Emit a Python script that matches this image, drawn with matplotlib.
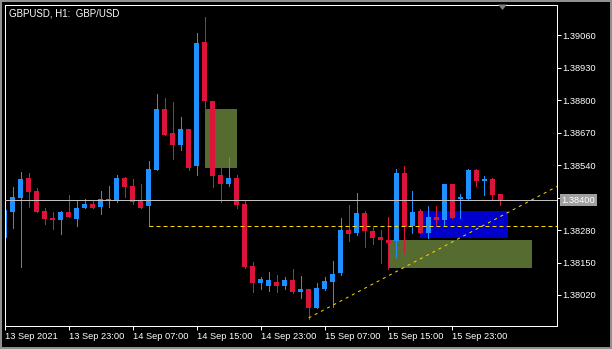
import matplotlib
matplotlib.use('Agg')
import matplotlib.pyplot as plt
import matplotlib.transforms as mtransforms
from matplotlib.patches import Rectangle, Polygon

# GBPUSD H1 bars, first bar = 13 Sep 2021 15:00
opens = [1.38248, 1.38352, 1.38408, 1.38488, 1.38436, 1.38356, 1.38328, 1.38320, 1.38352, 1.38324,
         1.38368, 1.38384, 1.38372, 1.38396, 1.38400, 1.38488, 1.38456, 1.38396, 1.38376, 1.38520,
         1.38764, 1.38668, 1.38620, 1.38684, 1.38536, 1.39032, 1.38796, 1.38500, 1.38464, 1.38488,
         1.38384, 1.38136, 1.38068, 1.38056, 1.38072, 1.38056, 1.38080, 1.38032, 1.38044, 1.37968,
         1.38044, 1.38072, 1.38108, 1.38280, 1.38268, 1.38348, 1.38276, 1.38252, 1.38240, 1.38236,
         1.38508, 1.38296, 1.38356, 1.38268, 1.38332, 1.38320, 1.38464, 1.38404, 1.38404, 1.38520,
         1.38476, 1.38484, 1.38424]
highs = [1.38368, 1.38452, 1.38512, 1.38508, 1.38448, 1.38368, 1.38352, 1.38356, 1.38420, 1.38396,
         1.38404, 1.38396, 1.38436, 1.38456, 1.38500, 1.38492, 1.38484, 1.38464, 1.38556, 1.38824,
         1.38808, 1.38792, 1.38732, 1.38684, 1.39068, 1.39132, 1.38796, 1.38532, 1.38572, 1.38500,
         1.38396, 1.38152, 1.38092, 1.38112, 1.38100, 1.38092, 1.38124, 1.38096, 1.38044, 1.38068,
         1.38092, 1.38156, 1.38328, 1.38380, 1.38428, 1.38356, 1.38292, 1.38280, 1.38332, 1.38524,
         1.38536, 1.38436, 1.38364, 1.38376, 1.38376, 1.38464, 1.38464, 1.38424, 1.38524, 1.38524,
         1.38496, 1.38488, 1.38424]
lows = [1.38240, 1.38288, 1.38132, 1.38372, 1.38352, 1.38304, 1.38284, 1.38264, 1.38332, 1.38296,
        1.38368, 1.38368, 1.38344, 1.38372, 1.38392, 1.38412, 1.38384, 1.38368, 1.38295, 1.38520,
        1.38660, 1.38564, 1.38600, 1.38520, 1.38500, 1.38760, 1.38452, 1.38392, 1.38456, 1.38368,
        1.38128, 1.38032, 1.38044, 1.38036, 1.38032, 1.38044, 1.38028, 1.38008, 1.37924, 1.37968,
        1.38040, 1.37972, 1.38100, 1.38236, 1.38260, 1.38212, 1.38224, 1.38148, 1.38124, 1.38172,
        1.38192, 1.38268, 1.38268, 1.38248, 1.38300, 1.38300, 1.38328, 1.38328, 1.38404, 1.38456,
        1.38420, 1.38400, 1.38380]
closes = [1.38360, 1.38412, 1.38484, 1.38432, 1.38352, 1.38324, 1.38320, 1.38352, 1.38332, 1.38368,
          1.38384, 1.38368, 1.38404, 1.38404, 1.38488, 1.38452, 1.38392, 1.38368, 1.38524, 1.38764,
          1.38660, 1.38620, 1.38684, 1.38528, 1.39028, 1.38796, 1.38496, 1.38464, 1.38488, 1.38380,
          1.38132, 1.38068, 1.38084, 1.38080, 1.38056, 1.38080, 1.38032, 1.38044, 1.37968, 1.38048,
          1.38076, 1.38104, 1.38280, 1.38264, 1.38348, 1.38276, 1.38248, 1.38240, 1.38228, 1.38508,
          1.38292, 1.38352, 1.38268, 1.38332, 1.38320, 1.38464, 1.38328, 1.38412, 1.38520, 1.38476,
          1.38484, 1.38420, 1.38400]

time_tick_bars = [0, 8, 16, 24, 32, 40, 48, 56]
time_tick_labels = ['13 Sep 2021', '13 Sep 23:00', '14 Sep 07:00', '14 Sep 15:00',
                    '14 Sep 23:00', '15 Sep 07:00', '15 Sep 15:00', '15 Sep 23:00']
price_ticks = [1.39060, 1.38930, 1.38800, 1.38670, 1.38540, 1.38410, 1.38280, 1.38150, 1.38020]

# rectangles: start bar, end bar, top, bottom, colour
rect_start = [25, 48, 52]
rect_end = [29, 66, 63]
rect_top = [1.38764, 1.38240, 1.38356]
rect_bottom = [1.38528, 1.38128, 1.38249]
rect_color = ['#556B2F', '#556B2F', '#0000CD']

hline_bar = 18
trend_bars = [38, 62]
trend_prices = [1.37928, 1.38334]
bid = closes[-1]

BULL = '#1E90FF'
BEAR = '#DC143C'
PX = 0.72  # one pixel in points at dpi 100

plt.rcParams['font.family'] = ['Liberation Sans', 'DejaVu Sans']

fig = plt.figure(figsize=(6.12, 3.49), dpi=100, facecolor='black')
ax = fig.add_axes([5 / 612, 23 / 349, 552 / 612, 321.5 / 349], facecolor='black')

xmin, xmax = 0.0875, 69.09
ax.set_xlim(xmin, xmax)
ax.set_ylim(1.37896, 1.39182)

# background rectangles
for s, e, t, b, c in zip(rect_start, rect_end, rect_top, rect_bottom, rect_color):
    ax.add_patch(Rectangle((s, b), e - s, t - b, facecolor=c, edgecolor='none', zorder=1))

# candles
bars = list(range(len(opens)))
colors = [BULL if c >= o else BEAR for o, c in zip(opens, closes)]
ax.vlines(bars, lows, highs, colors=colors, linewidth=PX, antialiased=False, zorder=2)
body_lo = [min(o, c) for o, c in zip(opens, closes)]
body_h = [max(abs(c - o), 0.00004) for o, c in zip(opens, closes)]
ax.bar(bars, body_h, bottom=body_lo, width=0.625, color=colors, edgecolor='none',
       antialiased=False, zorder=2)

# bid line
ax.axhline(bid, color='#C0C0C0', linewidth=PX, zorder=3)

# horizontal level and trend ray
ax.plot([hline_bar, xmax], [lows[hline_bar]] * 2, color='#FFD700', linewidth=PX,
        linestyle=(0, (4, 3)), zorder=4)
slope = (trend_prices[1] - trend_prices[0]) / (trend_bars[1] - trend_bars[0])
ax.plot([trend_bars[0], xmax], [trend_prices[0], trend_prices[0] + slope * (xmax - trend_bars[0])],
        color='#FFD700', linewidth=PX, linestyle=(0, (3, 4)), zorder=4)

# axes styling
for sp in ax.spines.values():
    sp.set_color('white')
    sp.set_linewidth(PX)
ax.yaxis.tick_right()
ax.set_yticks(price_ticks)
ax.set_yticklabels(['%.5f' % p for p in price_ticks])
ax.tick_params(axis='y', colors='white', length=3, width=PX, pad=1, labelsize=6.7)
ax.set_xticks(time_tick_bars)
ax.set_xticklabels(time_tick_labels)
ax.tick_params(axis='x', colors='white', length=3, width=PX, pad=1.5, labelsize=6.7)
for lbl in ax.get_xticklabels():
    lbl.set_horizontalalignment('left')

# bid price label on the price scale
trans = mtransforms.blended_transform_factory(ax.transAxes, ax.transData)
trans = trans + mtransforms.ScaledTranslation(4.5 / 100, 0, fig.dpi_scale_trans)
ax.text(1, bid, '%.5f' % bid, transform=trans, color='white', fontsize=6.7,
        va='center', ha='left', clip_on=False, zorder=10,
        bbox=dict(boxstyle='square,pad=0.2', facecolor='#A0A0A0', edgecolor='none'))

# title
ax.text(4 / 552, 1 - 4 / 321.5, 'GBPUSD, H1:  GBP/USD', transform=ax.transAxes,
        color='white', fontsize=7, va='top', ha='left')

# chart-shift marker and window border
fig.patches.append(Polygon([[498 / 612, 344.5 / 349], [507 / 612, 344.5 / 349], [502.5 / 612, 339 / 349]],
                           closed=True, facecolor='#808080', edgecolor='none', transform=fig.transFigure))
for r in [(0, 0, 2 / 612, 1), (0, 347 / 349, 1, 2 / 349), (0, 0, 1, 2 / 349), (610 / 612, 0, 2 / 612, 1)]:
    fig.patches.append(Rectangle(r[:2], r[2], r[3], facecolor='#909090', edgecolor='none',
                                 transform=fig.transFigure))

fig.savefig('out.png', dpi=100, facecolor='black')
